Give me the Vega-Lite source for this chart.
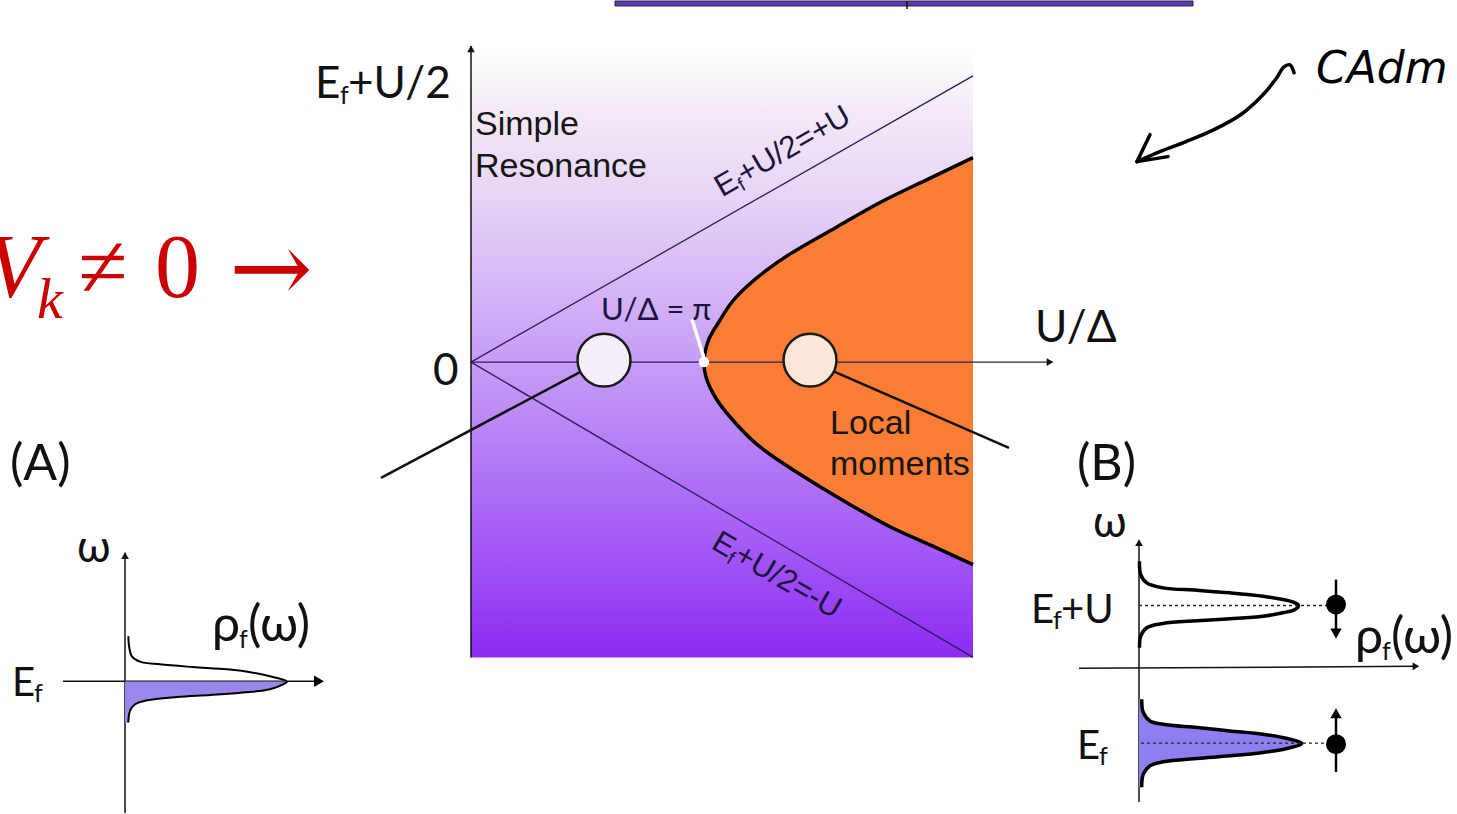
{
  "$schema": "https://vega.github.io/schema/vega-lite/v6.json",
  "width": 1457,
  "height": 814,
  "autosize": {"type": "fit", "contains": "padding"},
  "padding": 0,
  "background": "white",
  "config": {"view": {"stroke": null}},
  "datasets": {
    "rules": [
      {"g": "thin", "x": 471, "y": 362, "x2": 1052, "y2": 362},
      {"g": "thin", "x": 471, "y": 362, "x2": 973, "y2": 75},
      {"g": "thin", "x": 471, "y": 362, "x2": 973, "y2": 658},
      {"g": "axis", "x": 471, "y": 45, "x2": 471, "y2": 658},
      {"g": "axis", "x": 125, "y": 553, "x2": 125, "y2": 814},
      {"g": "axis", "x": 63, "y": 682, "x2": 318, "y2": 682},
      {"g": "axis", "x": 1139, "y": 541, "x2": 1139, "y2": 803},
      {"g": "axis", "x": 1079, "y": 669, "x2": 1416, "y2": 667},
      {"g": "thick", "x": 580, "y": 372, "x2": 381, "y2": 478},
      {"g": "thick", "x": 833, "y": 371, "x2": 1009, "y2": 448},
      {"g": "white", "x": 692, "y": 319, "x2": 704, "y2": 358},
      {"g": "dot", "x": 1139, "y": 606, "x2": 1328, "y2": 606},
      {"g": "dot", "x": 1141, "y": 744, "x2": 1328, "y2": 744},
      {"g": "spin", "x": 1336, "y": 580, "x2": 1336, "y2": 630},
      {"g": "spin", "x": 1336, "y": 718, "x2": 1336, "y2": 773},
      {"g": "barb", "x": 1137, "y": 161, "x2": 1150, "y2": 134},
      {"g": "barb", "x": 1137, "y": 161, "x2": 1168, "y2": 156},
      {"g": "tick", "x": 907, "y": 0, "x2": 907, "y2": 8}
    ],
    "curves": [
      {"c": "bound", "o": 1, "x": 973, "y": 157},
      {"c": "bound", "o": 2, "x": 925, "y": 180},
      {"c": "bound", "o": 3, "x": 880, "y": 202},
      {"c": "bound", "o": 4, "x": 836, "y": 227},
      {"c": "bound", "o": 5, "x": 791, "y": 253},
      {"c": "bound", "o": 6, "x": 769, "y": 268},
      {"c": "bound", "o": 7, "x": 746, "y": 287},
      {"c": "bound", "o": 8, "x": 731, "y": 303},
      {"c": "bound", "o": 9, "x": 720, "y": 320},
      {"c": "bound", "o": 10, "x": 708.5, "y": 340},
      {"c": "bound", "o": 11, "x": 704, "y": 362},
      {"c": "bound", "o": 12, "x": 706, "y": 377},
      {"c": "bound", "o": 13, "x": 717, "y": 400},
      {"c": "bound", "o": 14, "x": 739, "y": 427},
      {"c": "bound", "o": 15, "x": 760, "y": 447},
      {"c": "bound", "o": 16, "x": 804, "y": 477},
      {"c": "bound", "o": 17, "x": 847, "y": 503},
      {"c": "bound", "o": 18, "x": 890, "y": 527},
      {"c": "bound", "o": 19, "x": 934, "y": 547},
      {"c": "bound", "o": 20, "x": 973, "y": 565},

      {"c": "A", "o": 1, "x": 128.3, "y": 636.7},
      {"c": "A", "o": 2, "x": 129.3, "y": 648.3},
      {"c": "A", "o": 3, "x": 131.7, "y": 656.7},
      {"c": "A", "o": 4, "x": 140, "y": 662.3},
      {"c": "A", "o": 5, "x": 160, "y": 665},
      {"c": "A", "o": 6, "x": 193, "y": 667.7},
      {"c": "A", "o": 7, "x": 227, "y": 670},
      {"c": "A", "o": 8, "x": 253, "y": 673.3},
      {"c": "A", "o": 9, "x": 273, "y": 677.7},
      {"c": "A", "o": 10, "x": 287, "y": 682.3},
      {"c": "A", "o": 11, "x": 283, "y": 685},
      {"c": "A", "o": 12, "x": 270, "y": 690},
      {"c": "A", "o": 13, "x": 243, "y": 693.3},
      {"c": "A", "o": 14, "x": 210, "y": 695.7},
      {"c": "A", "o": 15, "x": 177, "y": 697.7},
      {"c": "A", "o": 16, "x": 147, "y": 701},
      {"c": "A", "o": 17, "x": 135, "y": 705},
      {"c": "A", "o": 18, "x": 130, "y": 711.7},
      {"c": "A", "o": 19, "x": 128.3, "y": 723.3},

      {"c": "Bup", "o": 1, "x": 1139.5, "y": 561.7},
      {"c": "Bup", "o": 2, "x": 1140.7, "y": 575},
      {"c": "Bup", "o": 3, "x": 1146.7, "y": 583.3},
      {"c": "Bup", "o": 4, "x": 1163, "y": 588.3},
      {"c": "Bup", "o": 5, "x": 1197, "y": 590.7},
      {"c": "Bup", "o": 6, "x": 1230, "y": 593.3},
      {"c": "Bup", "o": 7, "x": 1263, "y": 596.7},
      {"c": "Bup", "o": 8, "x": 1283, "y": 600},
      {"c": "Bup", "o": 9, "x": 1295, "y": 603.3},
      {"c": "Bup", "o": 10, "x": 1298.5, "y": 606},
      {"c": "Bup", "o": 11, "x": 1295, "y": 610},
      {"c": "Bup", "o": 12, "x": 1283, "y": 613.3},
      {"c": "Bup", "o": 13, "x": 1263, "y": 616.7},
      {"c": "Bup", "o": 14, "x": 1230, "y": 619.3},
      {"c": "Bup", "o": 15, "x": 1197, "y": 621.3},
      {"c": "Bup", "o": 16, "x": 1163, "y": 624},
      {"c": "Bup", "o": 17, "x": 1146.7, "y": 628.3},
      {"c": "Bup", "o": 18, "x": 1140.7, "y": 636.7},
      {"c": "Bup", "o": 19, "x": 1139.5, "y": 648.3},

      {"c": "Blo", "o": 1, "x": 1141.7, "y": 700},
      {"c": "Blo", "o": 2, "x": 1143.3, "y": 713.3},
      {"c": "Blo", "o": 3, "x": 1150, "y": 721.7},
      {"c": "Blo", "o": 4, "x": 1163, "y": 725},
      {"c": "Blo", "o": 5, "x": 1197, "y": 728.3},
      {"c": "Blo", "o": 6, "x": 1230, "y": 731.7},
      {"c": "Blo", "o": 7, "x": 1263, "y": 735},
      {"c": "Blo", "o": 8, "x": 1287, "y": 739.3},
      {"c": "Blo", "o": 9, "x": 1301.7, "y": 744.3},
      {"c": "Blo", "o": 10, "x": 1287, "y": 749.3},
      {"c": "Blo", "o": 11, "x": 1263, "y": 753.3},
      {"c": "Blo", "o": 12, "x": 1230, "y": 756.7},
      {"c": "Blo", "o": 13, "x": 1197, "y": 759.3},
      {"c": "Blo", "o": 14, "x": 1163, "y": 762.7},
      {"c": "Blo", "o": 15, "x": 1150, "y": 766.7},
      {"c": "Blo", "o": 16, "x": 1143.3, "y": 775},
      {"c": "Blo", "o": 17, "x": 1141.7, "y": 788.3},

      {"c": "hand", "o": 1, "x": 1294, "y": 72},
      {"c": "hand", "o": 2, "x": 1290, "y": 64},
      {"c": "hand", "o": 3, "x": 1284, "y": 66},
      {"c": "hand", "o": 4, "x": 1276, "y": 78},
      {"c": "hand", "o": 5, "x": 1262, "y": 95},
      {"c": "hand", "o": 6, "x": 1242, "y": 113},
      {"c": "hand", "o": 7, "x": 1214, "y": 129},
      {"c": "hand", "o": 8, "x": 1186, "y": 141},
      {"c": "hand", "o": 9, "x": 1160, "y": 151},
      {"c": "hand", "o": 10, "x": 1137, "y": 161}
    ],
    "heads": [
      {"dir": "right", "x": 1050, "y": 362},
      {"dir": "up", "x": 471, "y": 48},
      {"dir": "up", "x": 125, "y": 556},
      {"dir": "up", "x": 1139, "y": 543},
      {"dir": "right", "x": 1416, "y": 667}
    ],
    "bigheads": [
      {"dir": "right", "x": 319, "y": 682},
      {"dir": "down", "x": 1336, "y": 634},
      {"dir": "up", "x": 1336, "y": 714}
    ]
  },
  "encoding": {
    "x": {"field": "x", "type": "quantitative", "scale": {"domain": [0, 1457], "nice": false, "zero": false}, "axis": null},
    "y": {"field": "y", "type": "quantitative", "scale": {"domain": [0, 814], "nice": false, "zero": false, "reverse": true}, "axis": null}
  },
  "layer": [
    {
      "data": {"values": [{"x": 615, "x2": 1193, "y": 0, "y2": 5}]},
      "mark": {"type": "rect", "fill": "#5E3BA5", "stroke": "#2B1A55", "strokeWidth": 1},
      "encoding": {"x2": {"field": "x2"}, "y2": {"field": "y2"}}
    },
    {
      "data": {"values": [{"x": 471, "x2": 973, "y": 48, "y2": 658}]},
      "mark": {
        "type": "rect",
        "fill": {
          "gradient": "linear", "x1": 0, "y1": 0, "x2": 0, "y2": 1,
          "stops": [
            {"offset": 0, "color": "#ffffff"},
            {"offset": 0.1, "color": "#F3EAF6"},
            {"offset": 0.25, "color": "#E6D3F6"},
            {"offset": 0.45, "color": "#CEAAF6"},
            {"offset": 0.6, "color": "#BC8AF6"},
            {"offset": 0.8, "color": "#A65DF5"},
            {"offset": 1, "color": "#8C2BF3"}
          ]
        }
      },
      "encoding": {"x2": {"field": "x2"}, "y2": {"field": "y2"}}
    },
    {
      "data": {"name": "curves"},
      "transform": [{"filter": "datum.c === 'bound'"}],
      "mark": {"type": "area", "orient": "horizontal", "interpolate": "catmull-rom", "fill": "#FA7D35"},
      "encoding": {"x2": {"datum": 973}}
    },
    {
      "data": {"name": "rules"},
      "transform": [{"filter": "datum.g === 'thin'"}],
      "mark": {"type": "rule", "stroke": "#2C1B5E", "strokeWidth": 1.3},
      "encoding": {"x2": {"field": "x2"}, "y2": {"field": "y2"}}
    },
    {
      "data": {"name": "rules"},
      "transform": [{"filter": "datum.g === 'axis' || datum.g === 'tick'"}],
      "mark": {"type": "rule", "stroke": "#111111", "strokeWidth": 1.5},
      "encoding": {"x2": {"field": "x2"}, "y2": {"field": "y2"}}
    },
    {
      "data": {"name": "curves"},
      "transform": [{"filter": "datum.c === 'bound'"}],
      "mark": {"type": "line", "interpolate": "catmull-rom", "stroke": "#000000", "strokeWidth": 3.5},
      "encoding": {"order": {"field": "o", "type": "quantitative"}}
    },
    {
      "data": {"name": "rules"},
      "transform": [{"filter": "datum.g === 'thick'"}],
      "mark": {"type": "rule", "stroke": "#111111", "strokeWidth": 2.5},
      "encoding": {"x2": {"field": "x2"}, "y2": {"field": "y2"}}
    },
    {
      "data": {"values": [{"regime": "resonance", "x": 604, "y": 360}, {"regime": "moment", "x": 810, "y": 360}]},
      "mark": {"type": "point", "shape": "circle", "filled": true, "size": 2800, "stroke": "#1a1a1a", "strokeWidth": 2.5, "opacity": 1},
      "encoding": {
        "fill": {"field": "regime", "type": "nominal", "scale": {"domain": ["resonance", "moment"], "range": ["#F4EEF8", "#FBE6DA"]}, "legend": null}
      }
    },
    {
      "data": {"name": "rules"},
      "transform": [{"filter": "datum.g === 'white'"}],
      "mark": {"type": "rule", "stroke": "#ffffff", "strokeWidth": 3.5},
      "encoding": {"x2": {"field": "x2"}, "y2": {"field": "y2"}}
    },
    {
      "data": {"values": [{"x": 704, "y": 362}]},
      "mark": {"type": "point", "shape": "circle", "filled": true, "fill": "#ffffff", "size": 110, "opacity": 1}
    },
    {
      "data": {"name": "curves"},
      "transform": [{"filter": "datum.c === 'A' && datum.y >= 682"}],
      "mark": {"type": "area", "orient": "horizontal", "interpolate": "catmull-rom", "fill": "#9C86EE"},
      "encoding": {"x2": {"datum": 125}}
    },
    {
      "data": {"name": "curves"},
      "transform": [{"filter": "datum.c === 'Blo'"}],
      "mark": {"type": "area", "orient": "horizontal", "interpolate": "catmull-rom", "fill": "#8E7FF0"},
      "encoding": {"x2": {"datum": 1139}}
    },
    {
      "data": {"name": "curves"},
      "transform": [{"filter": "datum.c === 'A'"}],
      "mark": {"type": "line", "interpolate": "catmull-rom", "stroke": "#000000", "strokeWidth": 2},
      "encoding": {"order": {"field": "o", "type": "quantitative"}}
    },
    {
      "data": {"name": "curves"},
      "transform": [{"filter": "datum.c === 'Bup' || datum.c === 'Blo'"}],
      "mark": {"type": "line", "interpolate": "catmull-rom", "stroke": "#000000", "strokeWidth": 3.5},
      "encoding": {"detail": {"field": "c"}, "order": {"field": "o", "type": "quantitative"}}
    },
    {
      "data": {"name": "rules"},
      "transform": [{"filter": "datum.g === 'dot'"}],
      "mark": {"type": "rule", "stroke": "#222222", "strokeWidth": 1.4, "strokeDash": [3, 3]},
      "encoding": {"x2": {"field": "x2"}, "y2": {"field": "y2"}}
    },
    {
      "data": {"name": "rules"},
      "transform": [{"filter": "datum.g === 'spin'"}],
      "mark": {"type": "rule", "stroke": "#000000", "strokeWidth": 2.5},
      "encoding": {"x2": {"field": "x2"}, "y2": {"field": "y2"}}
    },
    {
      "data": {"values": [{"x": 1336, "y": 605}, {"x": 1336, "y": 745}]},
      "mark": {"type": "point", "shape": "circle", "filled": true, "fill": "#000000", "size": 400, "opacity": 1}
    },
    {
      "data": {"name": "heads"},
      "mark": {"type": "point", "filled": true, "fill": "#111111", "size": 60, "opacity": 1},
      "encoding": {
        "shape": {"field": "dir", "type": "nominal", "scale": {"domain": ["up", "down", "right"], "range": ["triangle-up", "triangle-down", "triangle-right"]}, "legend": null}
      }
    },
    {
      "data": {"name": "bigheads"},
      "mark": {"type": "point", "filled": true, "fill": "#000000", "size": 130, "opacity": 1},
      "encoding": {
        "shape": {"field": "dir", "type": "nominal", "scale": {"domain": ["up", "down", "right"], "range": ["triangle-up", "triangle-down", "triangle-right"]}, "legend": null}
      }
    },
    {
      "data": {"name": "curves"},
      "transform": [{"filter": "datum.c === 'hand'"}],
      "mark": {"type": "line", "interpolate": "catmull-rom", "stroke": "#000000", "strokeWidth": 3.5, "strokeCap": "round", "strokeJoin": "round"},
      "encoding": {"order": {"field": "o", "type": "quantitative"}}
    },
    {
      "data": {"name": "rules"},
      "transform": [{"filter": "datum.g === 'barb'"}],
      "mark": {"type": "rule", "stroke": "#000000", "strokeWidth": 3.5, "strokeCap": "round"},
      "encoding": {"x2": {"field": "x2"}, "y2": {"field": "y2"}}
    },
    {
      "data": {"values": [
        {"t": "E", "x": 315, "y": 97},
        {"t": "+U/2", "x": 348, "y": 97},
        {"t": "0", "x": 433, "y": 385},
        {"t": "U/Δ", "x": 1035, "y": 342},
        {"t": "ω", "x": 77, "y": 562},
        {"t": "ω", "x": 1093, "y": 537}
      ]},
      "mark": {"type": "text", "font": "Lato", "fontSize": 44, "align": "left", "baseline": "alphabetic", "fill": "#111111"},
      "encoding": {"text": {"field": "t"}}
    },
    {
      "data": {"values": [
        {"t": "(A)", "x": 10, "y": 480},
        {"t": "(B)", "x": 1077, "y": 480},
        {"t": "ρ", "x": 212, "y": 642},
        {"t": "(ω)", "x": 248, "y": 642},
        {"t": "ρ", "x": 1355, "y": 654},
        {"t": "(ω)", "x": 1391, "y": 654}
      ]},
      "mark": {"type": "text", "font": "Lato", "fontSize": 50, "align": "left", "baseline": "alphabetic", "fill": "#111111", "clip": true},
      "encoding": {"text": {"field": "t"}}
    },
    {
      "data": {"values": [
        {"t": "E", "x": 12, "y": 697},
        {"t": "E", "x": 1031, "y": 624},
        {"t": "+U", "x": 1061, "y": 624},
        {"t": "E", "x": 1077, "y": 760}
      ]},
      "mark": {"type": "text", "font": "Lato", "fontSize": 40, "align": "left", "baseline": "alphabetic", "fill": "#111111"},
      "encoding": {"text": {"field": "t"}}
    },
    {
      "data": {"values": [
        {"t": "f", "x": 340, "y": 103},
        {"t": "f", "x": 239, "y": 649},
        {"t": "f", "x": 34, "y": 703},
        {"t": "f", "x": 1053, "y": 630},
        {"t": "f", "x": 1382, "y": 661},
        {"t": "f", "x": 1099, "y": 766}
      ]},
      "mark": {"type": "text", "font": "Lato", "fontSize": 25, "align": "left", "baseline": "alphabetic", "fill": "#111111"},
      "encoding": {"text": {"field": "t"}}
    },
    {
      "data": {"values": [{"t": "U/Δ = π", "x": 601, "y": 320}]},
      "mark": {"type": "text", "font": "Lato", "fontSize": 31, "align": "left", "baseline": "alphabetic", "fill": "#1c1440"},
      "encoding": {"text": {"field": "t"}}
    },
    {
      "data": {"values": [
        {"t": "Simple", "x": 475, "y": 134},
        {"t": "Resonance", "x": 475, "y": 176},
        {"t": "Local", "x": 830, "y": 434},
        {"t": "moments", "x": 830, "y": 475}
      ]},
      "mark": {"type": "text", "font": "Liberation Sans", "fontSize": 34, "align": "left", "baseline": "alphabetic", "fill": "#161616"},
      "encoding": {"text": {"field": "t"}}
    },
    {
      "data": {"values": [
        {"t": "E", "x": 722, "y": 197},
        {"t": "+U/2=+U", "x": 744.5, "y": 184}
      ]},
      "mark": {"type": "text", "font": "Liberation Sans", "fontSize": 31, "angle": 330, "align": "left", "baseline": "alphabetic", "fill": "#1c1440"},
      "encoding": {"text": {"field": "t"}}
    },
    {
      "data": {"values": [{"t": "f", "x": 742.4, "y": 191}]},
      "mark": {"type": "text", "font": "Liberation Sans", "fontSize": 19, "angle": 330, "align": "left", "baseline": "alphabetic", "fill": "#1c1440"},
      "encoding": {"text": {"field": "t"}}
    },
    {
      "data": {"values": [
        {"t": "E", "x": 710, "y": 548},
        {"t": "+U/2=-U", "x": 732.5, "y": 561}
      ]},
      "mark": {"type": "text", "font": "Liberation Sans", "fontSize": 31, "angle": 30, "align": "left", "baseline": "alphabetic", "fill": "#1c1440"},
      "encoding": {"text": {"field": "t"}}
    },
    {
      "data": {"values": [{"t": "f", "x": 725.4, "y": 562.7}]},
      "mark": {"type": "text", "font": "Liberation Sans", "fontSize": 19, "angle": 30, "align": "left", "baseline": "alphabetic", "fill": "#1c1440"},
      "encoding": {"text": {"field": "t"}}
    },
    {
      "data": {"values": [{"t": "V", "x": -14, "y": 297}]},
      "mark": {"type": "text", "font": "Liberation Serif", "fontSize": 90, "fontStyle": "italic", "align": "left", "baseline": "alphabetic", "fill": "#CC0000", "clip": true},
      "encoding": {"text": {"field": "t"}}
    },
    {
      "data": {"values": [{"t": "k", "x": 37, "y": 318}]},
      "mark": {"type": "text", "font": "Liberation Serif", "fontSize": 58, "fontStyle": "italic", "align": "left", "baseline": "alphabetic", "fill": "#CC0000"},
      "encoding": {"text": {"field": "t"}}
    },
    {
      "data": {"values": [
        {"t": "≠", "x": 78, "y": 297},
        {"t": "0", "x": 155, "y": 297}
      ]},
      "mark": {"type": "text", "font": "Liberation Serif", "fontSize": 90, "align": "left", "baseline": "alphabetic", "fill": "#CC0000"},
      "encoding": {"text": {"field": "t"}}
    },
    {
      "data": {"values": [{"t": "→", "x": 229, "y": 302}]},
      "mark": {"type": "text", "font": "DejaVu Serif", "fontSize": 100, "align": "left", "baseline": "alphabetic", "fill": "#CC0000"},
      "encoding": {"text": {"field": "t"}}
    },
    {
      "data": {"values": [{"t": "CAdm", "x": 1316, "y": 82}]},
      "mark": {"type": "text", "font": "DejaVu Sans", "fontSize": 44, "fontStyle": "italic", "align": "left", "baseline": "alphabetic", "fill": "#000000", "clip": true},
      "encoding": {"text": {"field": "t"}}
    }
  ]
}
